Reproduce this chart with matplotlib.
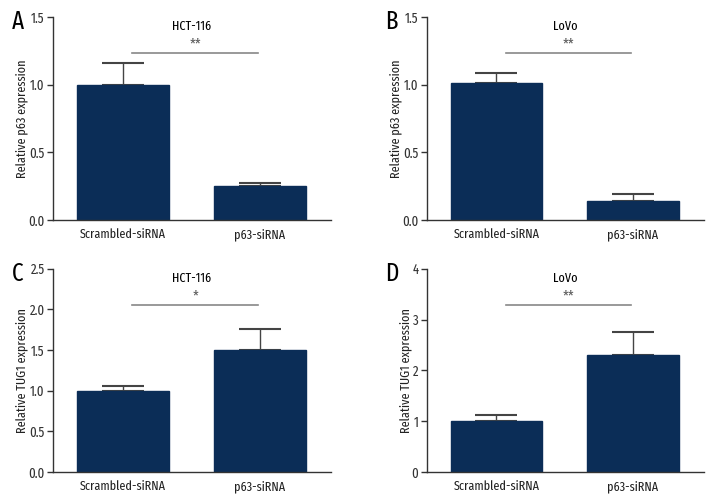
import matplotlib.pyplot as plt
from matplotlib import font_manager

groups = ["Scrambled-siRNA", "p63-siRNA"]

a_means = [1.0, 0.25]
a_errs = [0.16, 0.02]
b_means = [1.01, 0.14]
b_errs = [0.08, 0.05]
c_means = [1.0, 1.5]
c_errs = [0.06, 0.26]
d_means = [1.0, 2.3]
d_errs = [0.12, 0.45]

panels = [
    ("A", "HCT-116", "Relative p63 expression", a_means, a_errs, 1.5, [0.0, 0.5, 1.0, 1.5], "%.1f", 1.236, "**"),
    ("B", "LoVo", "Relative p63 expression", b_means, b_errs, 1.5, [0.0, 0.5, 1.0, 1.5], "%.1f", 1.236, "**"),
    ("C", "HCT-116", "Relative TUG1 expression", c_means, c_errs, 2.5, [0.0, 0.5, 1.0, 1.5, 2.0, 2.5], "%.1f", 2.058, "*"),
    ("D", "LoVo", "Relative TUG1 expression", d_means, d_errs, 4, [0, 1, 2, 3, 4], "%d", 3.29, "**"),
]

names = {f.name for f in font_manager.fontManager.ttflist}
prefs = ["Fira Sans Extra Condensed", "Fira Sans Condensed", "PT Sans Narrow", "Roboto Condensed"]
fam = [n for n in prefs if n in names][:1] + ["DejaVu Sans"]
plt.rcParams["font.family"] = fam

bar_color = "#0b2d57"
axis_color = "#333333"

fig = plt.figure(figsize=(7.2, 5.04), dpi=100)

rects = [
    [0.0736, 0.5635, 0.386, 0.4025],
    [0.5926, 0.5635, 0.385, 0.4025],
    [0.0736, 0.0635, 0.386, 0.4032],
    [0.5926, 0.0635, 0.385, 0.4032],
]

for rect, (letter, title, ylabel, means, errs, ymax, ticks, fmt, sig_y, stars) in zip(rects, panels):
    ax = fig.add_axes(rect)
    x = [0, 1]
    ax.bar(x, means, width=0.67, color=bar_color, edgecolor=bar_color, zorder=2)
    ax.errorbar(x, means, yerr=[[0, 0], errs], fmt="none", ecolor="#444444",
                elinewidth=1.0, capsize=15, capthick=1.5, zorder=1)
    ax.set_xlim(-0.51, 1.52)
    ax.set_ylim(0, ymax)
    ax.set_yticks(ticks)
    ax.set_yticklabels([fmt % t for t in ticks])
    ax.set_xticks(x)
    ax.set_xticklabels(groups, fontsize=9.5, color="#222222")
    ax.tick_params(axis="x", length=0, pad=6)
    ax.tick_params(axis="y", length=4, width=1, color=axis_color, labelsize=10, pad=2,
                   labelcolor="#333333")
    for s in ["top", "right"]:
        ax.spines[s].set_visible(False)
    for s in ["left", "bottom"]:
        ax.spines[s].set_color(axis_color)
        ax.spines[s].set_linewidth(1)
    ax.set_ylabel(ylabel, fontsize=9.5, labelpad=0, color="#222222")
    ax.text(0.5, 0.955, title, transform=ax.transAxes, ha="center", va="center", fontsize=9.5)
    ax.plot([0.07, 0.99], [sig_y, sig_y], color="#888888", lw=1.2, clip_on=False)
    ax.text(0.53, sig_y + ymax * 0.008, stars, ha="center", va="bottom", fontsize=11, color="#555555")
    ax.text(-0.126, 0.975, letter, transform=ax.transAxes, ha="center", va="center", fontsize=18)

fig.savefig("out.png", dpi=100, facecolor="white")
